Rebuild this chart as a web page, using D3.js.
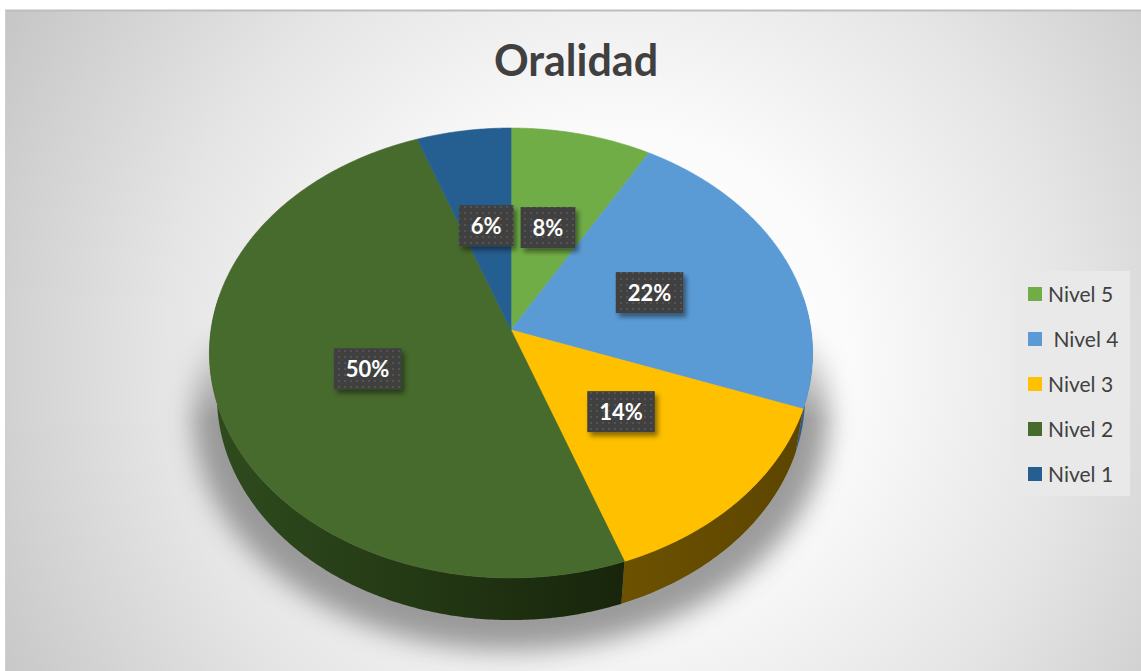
<!DOCTYPE html>
<html>
<head>
<meta charset="utf-8">
<script src="https://cdn.jsdelivr.net/npm/d3@7/dist/d3.min.js"></script>
<style>
html,body{margin:0;padding:0;background:#ffffff;}
svg{display:block;}
</style>
</head>
<body>
<svg id="chart" width="1141" height="671"></svg>
<script>
// ---- data ----
const title = "Oralidad";
const categories = ["Nivel 5", " Nivel 4", "Nivel 3", "Nivel 2", "Nivel 1"];
const values = [3, 8, 5, 18, 2];
const valueLabels = ["8%", "22%", "14%", "50%", "6%"];

// ---- styles ----
const topColors = ["#70ad47", "#5b9bd5", "#ffc000", "#476a2d", "#255e91"];
const sideColorsA = ["#3d6127", "#2f5c86", "#6c5100", "#2f4c1e", "#163a5a"];
const sideColorsB = ["#2c4a1a", "#244a6d", "#5c4500", "#18250b", "#102c46"];

const W = 1141, H = 671;
const svg = d3.select("#chart");
const defs = svg.append("defs");

// background gradient
const bg = defs.append("radialGradient").attr("id", "bgGrad")
  .attr("gradientUnits", "userSpaceOnUse").attr("cx", 620).attr("cy", 360).attr("r", 760);
[[0, "#ffffff"], [0.3, "#fbfbfb"], [0.6, "#e5e5e5"], [1, "#bfbfbf"]].forEach(s =>
  bg.append("stop").attr("offset", s[0]).attr("stop-color", s[1]));

svg.append("rect").attr("x", 5).attr("y", 10).attr("width", W - 5).attr("height", H - 10)
  .attr("fill", "url(#bgGrad)");
svg.append("line").attr("x1", 5).attr("x2", W).attr("y1", 10.5).attr("y2", 10.5)
  .attr("stroke", "#bdbdbd").attr("stroke-width", 2);
svg.append("line").attr("x1", 5.5).attr("x2", 5.5).attr("y1", 10).attr("y2", H)
  .attr("stroke", "#cfcfcf").attr("stroke-width", 1);

// title
svg.append("text").attr("x", 576).attr("y", 76).attr("text-anchor", "middle")
  .attr("font-family", "Lato, 'Open Sans', sans-serif").attr("font-weight", 700)
  .attr("font-size", 43).attr("fill", "#404040").text(title);

// ---- 3D pie projection ----
const cx = 511, cy = 330;
const D = 6.57, F = 300 * D;
const sinA = 0.742, cosA = Math.sqrt(1 - sinA * sinA);
const thick = 0.225;
function proj(theta, r, t) {
  const x3 = r * Math.sin(theta);
  const zp = -r * Math.cos(theta);
  let y3 = -zp * sinA, z3 = zp * cosA;
  y3 -= t * cosA; z3 -= t * sinA;
  const s = F / (D - z3);
  return [cx + x3 * s, cy - y3 * s];
}

const pie = d3.pie().sort(null).value(d => d)(values);
const color = d3.scaleOrdinal().domain(categories).range(topColors);
const line = d3.line().curve(d3.curveLinear);

function arcPts(a0, a1, r, t) {
  const n = Math.max(2, Math.ceil((a1 - a0) / 0.01));
  return d3.range(n + 1).map(i => proj(a0 + (a1 - a0) * i / n, r, t));
}

// shadow
const blur = defs.append("filter").attr("id", "pieShadow")
  .attr("x", "-20%").attr("y", "-20%").attr("width", "140%").attr("height", "160%");
blur.append("feGaussianBlur").attr("stdDeviation", 12);
const mg = defs.append("linearGradient").attr("id", "shadowMaskGrad")
  .attr("gradientUnits", "userSpaceOnUse").attr("x1", 0).attr("y1", 320).attr("x2", 0).attr("y2", 420);
mg.append("stop").attr("offset", 0).attr("stop-color", "#000");
mg.append("stop").attr("offset", 1).attr("stop-color", "#fff");
defs.append("mask").attr("id", "shadowMask").attr("maskUnits", "userSpaceOnUse")
  .append("rect").attr("x", 0).attr("y", 0).attr("width", W).attr("height", H)
  .attr("fill", "url(#shadowMaskGrad)");

const bottomRing = arcPts(0, 2 * Math.PI, 1, thick);
svg.append("g").attr("mask", "url(#shadowMask)")
  .append("path")
  .attr("d", line(bottomRing) + "Z")
  .attr("transform", `translate(${cx},${cy + 16}) scale(1.08,1.05) translate(${-cx},${-cy})`)
  .attr("fill", "#8a8a8a").attr("opacity", 0.85).attr("filter", "url(#pieShadow)");

// side walls
const lo = Math.PI / 2 - 0.15, hi = 3 * Math.PI / 2 + 0.15;
const wallG = svg.append("g");
pie.forEach((d, i) => {
  const a0 = Math.max(d.startAngle, lo), a1 = Math.min(d.endAngle, hi);
  if (a1 <= a0) return;
  const topE = arcPts(a0, a1, 1, 0);
  const botE = arcPts(a0, a1, 1, thick).reverse();
  const xs = topE.map(p => p[0]);
  const gid = "wall" + i;
  const g = defs.append("linearGradient").attr("id", gid).attr("gradientUnits", "userSpaceOnUse")
    .attr("x1", d3.min(xs)).attr("x2", d3.max(xs)).attr("y1", 0).attr("y2", 0);
  g.append("stop").attr("offset", 0).attr("stop-color", sideColorsA[i]);
  g.append("stop").attr("offset", 1).attr("stop-color", sideColorsB[i]);
  wallG.append("path").attr("d", line(topE.concat(botE)) + "Z")
    .attr("fill", `url(#${gid})`);
});

// top faces
const topG = svg.append("g");
pie.forEach((d, i) => {
  const pts = [[cx, cy]].concat(arcPts(d.startAngle, d.endAngle, 1, 0));
  topG.append("path").attr("d", line(pts) + "Z")
    .attr("fill", color(categories[i]))
    .attr("stroke", color(categories[i])).attr("stroke-width", 0.6);
});

// data labels
const pat = defs.append("pattern").attr("id", "dots").attr("patternUnits", "userSpaceOnUse")
  .attr("width", 6).attr("height", 6);
pat.append("rect").attr("width", 6).attr("height", 6).attr("fill", "#404040");
pat.append("rect").attr("x", 2).attr("y", 2).attr("width", 2).attr("height", 2).attr("fill", "#535353");
const lf = defs.append("filter").attr("id", "lblShadow")
  .attr("x", "-30%").attr("y", "-30%").attr("width", "170%").attr("height", "170%");
lf.append("feDropShadow").attr("dx", 3).attr("dy", 4).attr("stdDeviation", 2.5)
  .attr("flood-color", "#000").attr("flood-opacity", 0.45);

const lblG = svg.append("g");
pie.forEach((d, i) => {
  const mid = (d.startAngle + d.endAngle) / 2;
  const [lx, ly] = proj(mid, 0.5, 0);
  const g = lblG.append("g");
  const txt = g.append("text").attr("x", lx).attr("y", ly + 8).attr("text-anchor", "middle")
    .attr("font-family", "Lato, 'Open Sans', sans-serif").attr("font-weight", 700)
    .attr("font-size", 22).attr("fill", "#ffffff").text(valueLabels[i]);
  const w = txt.node().getComputedTextLength() + 24;
  g.insert("rect", "text").attr("x", lx - w / 2).attr("y", ly - 20.5).attr("width", w).attr("height", 41)
    .attr("fill", "url(#dots)").attr("filter", "url(#lblShadow)");
});

// legend
const leg = svg.append("g");
leg.append("rect").attr("x", 1015).attr("y", 271).attr("width", 115).attr("height", 225)
  .attr("fill", "#e9e9e9");
const ly0 = 294, lstep = 45;
categories.forEach((c, i) => {
  const y = ly0 + i * lstep;
  leg.append("rect").attr("x", 1028).attr("y", y - 7).attr("width", 14).attr("height", 14)
    .attr("fill", color(c));
  leg.append("text").attr("x", 1048).attr("y", y + 7.5)
    .attr("font-family", "Lato, 'Open Sans', sans-serif").attr("font-size", 21)
    .attr("fill", "#404040").style("white-space", "pre").text(c);
});
</script>
</body>
</html>
